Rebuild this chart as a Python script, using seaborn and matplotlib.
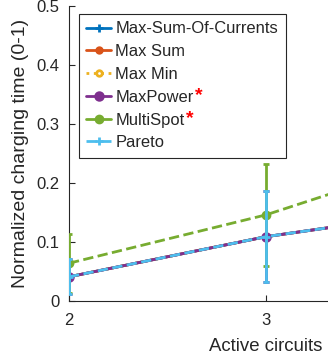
import numpy as np
import pandas as pd
import matplotlib
matplotlib.use('Agg')
import matplotlib.pyplot as plt
import seaborn as sns
from matplotlib.lines import Line2D

# data
circuits = [2, 3, 4]
maxpower_mean = [0.041, 0.109, 0.157]
maxpower_err = [0.030, 0.077, 0.090]
multispot_mean = [0.064, 0.146, 0.255]
multispot_err = [0.050, 0.086, 0.100]
pareto_mean = [0.041, 0.109, 0.157]
pareto_err = [0.030, 0.077, 0.090]
# the three baselines sit under the Pareto curve
msoc_mean = [0.041, 0.109, 0.157]
maxsum_mean = [0.041, 0.109, 0.157]
maxmin_mean = [0.041, 0.109, 0.157]

labels = ['Max-Sum-Of-Currents', 'Max Sum', 'Max Min', 'MaxPower', 'MultiSpot', 'Pareto']
colors = ['#0072BD', '#D95319', '#EDB120', '#7E2F8E', '#77AC30', '#4DBEEE']

sns.set_style('ticks')
plt.rcParams['font.family'] = ['Liberation Sans', 'DejaVu Sans']
axcol = '#262626'

fig = plt.figure(figsize=(3.28, 3.59), dpi=100)
# axes run past the right edge (figure is a crop)
ax = fig.add_axes([0.2104, 0.1616, 1.2012, 0.8217])

df = pd.DataFrame({
    'circuits': circuits * 6,
    'value': msoc_mean + maxsum_mean + maxmin_mean + maxpower_mean + multispot_mean + pareto_mean,
    'method': sum([[l] * len(circuits) for l in labels], []),
})

styles = {
    'Max-Sum-Of-Currents': dict(ls='-', marker='+', ms=6),
    'Max Sum': dict(ls='-', marker='o', ms=4),
    'Max Min': dict(ls=':', marker='o', ms=4, mfc='none'),
    'MaxPower': dict(ls='-', marker='o', ms=5.5),
    'MultiSpot': dict(ls='--', marker='o', ms=5),
    'Pareto': dict(ls='--', marker='+', ms=6),
}

errs = {'MaxPower': maxpower_err, 'MultiSpot': multispot_err, 'Pareto': pareto_err}

for i, (lab, col) in enumerate(zip(labels, colors)):
    sub = df[df['method'] == lab]
    st = styles[lab]
    sns.lineplot(data=sub, x='circuits', y='value', ax=ax, color=col, lw=2,
                 linestyle=st['ls'], marker=st['marker'], markersize=st['ms'],
                 markeredgewidth=2, markerfacecolor=st.get('mfc', col),
                 markeredgecolor=col, zorder=2 + i, errorbar=None)
    ax.lines[-1].set_linestyle(st['ls'])
    if lab in errs:
        ax.errorbar(sub['circuits'], sub['value'], yerr=errs[lab], fmt='none',
                    ecolor=col, elinewidth=2, capsize=2, capthick=2, zorder=2 + i)

ax.set_xlim(2, 4)
ax.set_ylim(0, 0.5)
ax.set_xticks([2, 3])
ax.set_yticks([0, 0.1, 0.2, 0.3, 0.4, 0.5])
ax.set_yticklabels(['0', '0.1', '0.2', '0.3', '0.4', '0.5'])
ax.tick_params(direction='in', length=4, width=0.8, colors=axcol, labelsize=12, pad=7)
ax.tick_params(axis='x', pad=9)
for s in ['top', 'right']:
    ax.spines[s].set_visible(False)
for s in ['left', 'bottom']:
    ax.spines[s].set_color(axcol)
    ax.spines[s].set_linewidth(0.8)
ax.set_xlabel('Active circuits', fontsize=13.4, color=axcol, labelpad=7)
ax.set_ylabel('Normalized charging time (0-1)', fontsize=14, color=axcol, labelpad=5)

handles = []
for lab, col in zip(labels, colors):
    st = styles[lab]
    ls = st['ls']
    if lab == 'MultiSpot':
        ls = '-'
    handles.append(Line2D([], [], color=col, lw=2, linestyle=ls, marker=st['marker'],
                          markersize=st['ms'], markeredgewidth=2,
                          markerfacecolor=st.get('mfc', col), markeredgecolor=col))
leg = ax.legend(handles, labels, loc='upper left', bbox_to_anchor=(79 / 328, 1 - 14 / 359),
                bbox_transform=fig.transFigure, borderaxespad=0, fontsize=11.9,
                handlelength=1.5, handletextpad=0.25, labelspacing=0.47, borderpad=0.45,
                fancybox=False, framealpha=1, edgecolor=axcol)
leg.get_frame().set_linewidth(0.8)
for t in leg.get_texts():
    t.set_color(axcol)

fig.canvas.draw()
r = fig.canvas.get_renderer()
for t in leg.get_texts():
    if t.get_text() in ('MaxPower', 'MultiSpot'):
        bb = t.get_window_extent(r)
        fig.text((bb.x1 + 1) / fig.bbox.width, (bb.y0 + bb.y1) / 2 / fig.bbox.height + 0.004,
                 '*', color='red', fontsize=14, ha='left', va='center', fontweight='bold')

fig.savefig('out.png', dpi=100)
